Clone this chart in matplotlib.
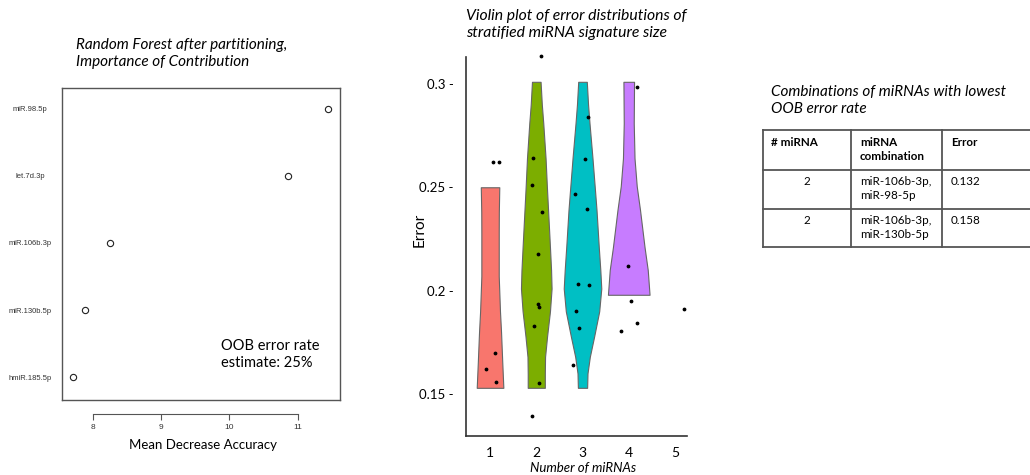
import matplotlib.pyplot as plt

W, H = 1030, 475

# random forest variable importance
features = ["hmiR.185.5p", "miR.130b.5p", "miR.106b.3p", "let.7d.3p", "miR.98.5p"]
mean_decrease_acc = [7.70, 7.88, 8.25, 10.86, 11.44]
acc_ticks = [8, 9, 10, 11]

# error per signature size: jittered points (x = group + jitter)
groups = [1, 2, 3, 4, 5]
pts1_x = [1.071, 1.195, 1.108, 0.914, 1.130]
pts1_y = [0.262, 0.262, 0.170, 0.162, 0.156]
pts2_x = [2.103, 1.923, 1.915, 2.117, 2.045, 2.045, 2.053, 1.958, 2.066, 1.915]
pts2_y = [0.3136, 0.264, 0.251, 0.238, 0.2175, 0.1933, 0.1919, 0.1829, 0.1553, 0.1393]
pts3_x = [3.126, 3.061, 2.845, 3.090, 2.896, 3.148, 2.866, 2.918, 2.801]
pts3_y = [0.284, 0.2635, 0.2466, 0.2393, 0.2031, 0.2026, 0.190, 0.1819, 0.1639]
pts4_x = [4.172, 3.990, 4.049, 4.185, 3.832]
pts4_y = [0.2986, 0.2117, 0.1948, 0.1842, 0.1804]
pts5_x = [5.20]
pts5_y = [0.1909]

# violin outlines: error level and half width (in group units)
vio1_y = [0.250, 0.238, 0.228, 0.207, 0.190, 0.180, 0.165, 0.153]
vio1_w = [0.200, 0.190, 0.188, 0.188, 0.215, 0.238, 0.265, 0.288]
vio2_y = [0.301, 0.290, 0.281, 0.264, 0.250, 0.239, 0.221, 0.210, 0.201, 0.190, 0.178, 0.168, 0.160, 0.153]
vio2_w = [0.093, 0.120, 0.151, 0.201, 0.230, 0.255, 0.296, 0.320, 0.331, 0.296, 0.234, 0.190, 0.185, 0.185]
vio3_y = [0.301, 0.290, 0.281, 0.264, 0.250, 0.239, 0.221, 0.210, 0.201, 0.190, 0.178, 0.168, 0.160, 0.153]
vio3_w = [0.093, 0.120, 0.151, 0.216, 0.265, 0.303, 0.352, 0.385, 0.406, 0.361, 0.253, 0.158, 0.108, 0.100]
vio4_y = [0.301, 0.281, 0.264, 0.2505, 0.239, 0.221, 0.210, 0.198]
vio4_w = [0.115, 0.108, 0.125, 0.173, 0.244, 0.342, 0.411, 0.450]
vio_colors = ["#F8766D", "#7CAE00", "#00BFC4", "#C77CFF"]
err_ticks = [0.15, 0.2, 0.25, 0.3]

# best combinations table
tab_header = ["# miRNA", "miRNA\ncombination", "Error"]
tab_n = ["2", "2"]
tab_combo = ["miR-106b-3p,\nmiR-98-5p", "miR-106b-3p,\nmiR-130b-5p"]
tab_err = [0.132, 0.158]

plt.rcParams["font.family"] = ["Lato", "DejaVu Sans"]


def px_box(x0, y0, x1, y1):
    return [x0 / W, 1 - y1 / H, (x1 - x0) / W, (y1 - y0) / H]


fig = plt.figure(figsize=(W / 100, H / 100), dpi=100)

# ---- dot chart ----
ax1 = fig.add_axes(px_box(62, 88, 340, 400))
ax1.plot(mean_decrease_acc, range(1, len(features) + 1), "o", ms=4.5,
         mfc="none", mec="#222222", mew=0.8)
ax1.set_xlim(7.546, 11.62)
ax1.set_ylim(0.66, 5.31)
ax1.set_yticks(range(1, len(features) + 1))
ax1.set_yticklabels(features, fontsize=5.5, family="Liberation Sans",
                    color="#333333", ha="center")
ax1.tick_params(axis="y", length=0, pad=23)
for s in ("top", "left", "right"):
    ax1.spines[s].set_color("#555555")
    ax1.spines[s].set_linewidth(1.0)
ax1.spines["bottom"].set_position(("outward", 10))
ax1.spines["bottom"].set_bounds(acc_ticks[0], acc_ticks[-1])
ax1.spines["bottom"].set_color("#555555")
ax1.plot([0, 1], [0, 0], transform=ax1.transAxes, color="#555555",
         lw=1.0, clip_on=False)
ax1.set_xticks(acc_ticks)
ax1.tick_params(axis="x", length=4, color="#555555", labelsize=6,
                labelcolor="#333333", pad=3)
for lab in ax1.get_xticklabels():
    lab.set_family("Liberation Sans")
ax1.set_xlabel("Mean Decrease Accuracy", fontsize=9.5)
ax1.xaxis.set_label_coords(0.507, -0.125)
ax1.text(0.573, 0.146, "OOB error rate\nestimate: 25%", transform=ax1.transAxes,
         fontsize=10.5, va="center", linespacing=1.3)

# ---- violin plot ----
ax2 = fig.add_axes(px_box(466, 57, 687, 436))
vio_y = [vio1_y, vio2_y, vio3_y, vio4_y]
vio_w = [vio1_w, vio2_w, vio3_w, vio4_w]
for g, ys, ws, c in zip(groups, vio_y, vio_w, vio_colors):
    ax2.fill_betweenx(ys, [g - w for w in ws], [g + w for w in ws],
                      facecolor=c, edgecolor="#666666", lw=0.8)
for xs, ys in [(pts1_x, pts1_y), (pts2_x, pts2_y), (pts3_x, pts3_y),
               (pts4_x, pts4_y), (pts5_x, pts5_y)]:
    ax2.scatter(xs, ys, s=3, color="black", zorder=3, clip_on=False)
ax2.set_xlim(0.48, 5.26)
ax2.set_ylim(0.1297, 0.313)
ax2.set_xticks(groups)
ax2.set_xticklabels([str(g) for g in groups], fontsize=10)
ax2.set_yticks(err_ticks)
ax2.set_yticklabels([f"{v:g} -" for v in err_ticks], fontsize=9.5)
ax2.tick_params(length=0)
ax2.tick_params(axis="y", pad=9)
ax2.tick_params(axis="x", pad=8)
for s in ("top", "right"):
    ax2.spines[s].set_visible(False)
for s in ("left", "bottom"):
    ax2.spines[s].set_color("#333333")
    ax2.spines[s].set_linewidth(1.2)
ax2.set_ylabel("Error", fontsize=11)
ax2.yaxis.set_label_coords(-0.176, 0.543)
ax2.set_xlabel("Number of miRNAs", fontsize=9.5, style="italic")
ax2.xaxis.set_label_coords(0.529, -0.068)

# ---- table ----
ax3 = fig.add_axes([0, 0, 1, 1])
ax3.set_xlim(0, W)
ax3.set_ylim(H, 0)
ax3.axis("off")
col_x = [763, 851, 942]
row_y = [130, 170, 209, 247]
line_kw = dict(color="#555555", lw=1.3)
for y in row_y:
    ax3.plot([col_x[0], W], [y, y], **line_kw)
for x in col_x:
    ax3.plot([x, x], [row_y[0], row_y[-1]], **line_kw)
tkw = dict(fontsize=8.4, va="top", linespacing=1.35)
ax3.text(col_x[0] + 8, row_y[0] + 7, tab_header[0], weight="bold", **tkw)
ax3.text(col_x[1] + 9, row_y[0] + 7, tab_header[1], weight="bold", **tkw)
ax3.text(col_x[2] + 9, row_y[0] + 7, tab_header[2], weight="bold", **tkw)
for i in range(len(tab_n)):
    top = row_y[i + 1] + 6
    ax3.text((col_x[0] + col_x[1]) / 2, top, tab_n[i], ha="center", **tkw)
    ax3.text(col_x[1] + 9, top, tab_combo[i], **tkw)
    ax3.text(col_x[2] + 9, top, f"{tab_err[i]:.3f}", **tkw)

# ---- panel titles ----
title_kw = dict(fontsize=11, style="italic", va="top", linespacing=1.3)
fig.text(76 / W, 1 - 38 / H, "Random Forest after partitioning,\nImportance of Contribution", **title_kw)
fig.text(466 / W, 1 - 9 / H, "Violin plot of error distributions of\nstratified miRNA signature size",
         fontsize=11.3, style="italic", va="top", linespacing=1.3)
fig.text(771 / W, 1 - 85 / H, "Combinations of miRNAs with lowest\nOOB error rate", **title_kw)

fig.savefig("out.png", dpi=100)
